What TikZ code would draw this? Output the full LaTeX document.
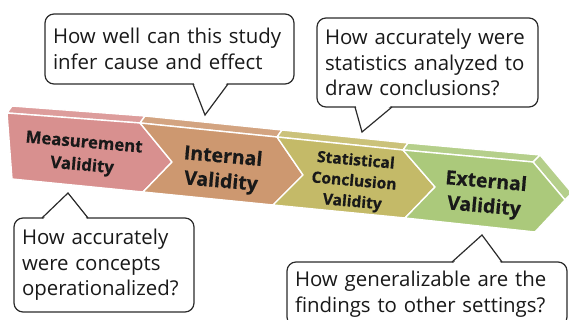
\documentclass[tikz,border=0pt]{standalone}
\usepackage{fontspec}
\setmainfont{Open Sans}
\newfontfamily\heavyfont[BoldFeatures={FakeBold=0.5}]{Open Sans}
\usetikzlibrary{calc}
\definecolor{pinkc}{HTML}{D8908F}
\definecolor{brownc}{HTML}{CD9870}
\definecolor{olivec}{HTML}{C4BA68}
\definecolor{greenc}{HTML}{ABC97B}
\definecolor{edgec}{HTML}{2B2B2B}
\begin{document}
\begin{tikzpicture}[x=1pt,y=-1pt,
  face/.style={draw=white, line width=1.4pt, line join=round},
  lab/.style={align=center, rotate=-5, inner sep=0pt, text=black!90},
  callbox/.style={draw=edgec, line width=1.2pt, fill=white, rounded corners=9pt,
    align=left, inner sep=8pt, text=black!90, font=\fontsize{20.4}{25.5}\selectfont},
  ptr/.style={draw=edgec, line width=1.2pt, line join=miter}
]
\useasboundingbox (0,0) rectangle (569,320);
\clip (0,0) rectangle (569,320);

% top faces
\path[face, fill=pinkc!88!white]  (7,113) -- (140,123) -- (145,116) -- (12,106) -- cycle;
\path[face, fill=brownc!88!white] (140,123) -- (277,137) -- (282,130) -- (145,116) -- cycle;
\path[face, fill=olivec!88!white] (277,137) -- (403,150) -- (408,143) -- (282,130) -- cycle;
\path[face, fill=greenc!88!white] (403,150) -- (533,162) -- (540,155) -- (408,143) -- cycle;
% side faces of the last arrow
\path[face, fill=greenc!88!white] (533,162) -- (540,155) -- (572,193) -- (565,200) -- cycle;
\path[face, fill=greenc!88!white] (565,200) -- (572,193) -- (542,225) -- (535,232) -- cycle;

% front faces
\path[face, fill=pinkc]  (7,113) -- (140,123) -- (172,162) -- (143,192) -- (12,179) -- cycle;
\path[face, fill=brownc] (140,123) -- (277,137) -- (303,175) -- (273,205) -- (143,192) -- (172,162) -- cycle;
\path[face, fill=olivec] (277,137) -- (403,150) -- (435,187) -- (405,218) -- (273,205) -- (303,175) -- cycle;
\path[face, fill=greenc] (403,150) -- (533,162) -- (565,200) -- (535,232) -- (405,218) -- (435,187) -- cycle;

% labels
\node[lab, font=\heavyfont\bfseries\fontsize{16.8}{23}\selectfont] (mv) at (83,155) {Measurement\\Validity};
\node[lab, font=\heavyfont\bfseries\fontsize{19.5}{25}\selectfont] (iv) at (222,170) {Internal\\Validity};
\node[lab, font=\heavyfont\bfseries\fontsize{15.6}{20.8}\selectfont] (sv) at (354,182) {Statistical\\Conclusion\\Validity};
\node[lab, font=\heavyfont\bfseries\fontsize{19.5}{25}\selectfont] (ev) at (485,195) {External\\Validity};

% callouts
\node[callbox, minimum width=249pt, minimum height=70pt, text width=233pt] (c1) at (169.5,49)
  {How well can this study\\infer cause and effect};
\node[callbox, minimum width=221pt, minimum height=89pt, text width=205pt] (c2) at (427.5,62.5)
  {How accurately were\\statistics analyzed to\\draw conclusions?};
\node[callbox, minimum width=180pt, minimum height=94pt, text width=164pt] (c3) at (104,265)
  {How accurately\\were concepts\\operationalized?};
\node[callbox, minimum width=280pt, minimum height=64pt, text width=264pt] (c4) at (427,294)
  {How generalizable are the\\findings to other settings?};

% pointers
\coordinate (p1a) at (193,84);  \coordinate (p1t) at (205,115); \coordinate (p1b) at (228,84);
\coordinate (p2a) at (355,107); \coordinate (p2t) at (362,132); \coordinate (p2b) at (392,107);
\coordinate (p3a) at (42,218);  \coordinate (p3t) at (68,193);  \coordinate (p3b) at (88,218);
\coordinate (p4a) at (452,262); \coordinate (p4t) at (482,235); \coordinate (p4b) at (502,262);

\fill[white] ($(p1a)+(0.8,-1.5)$) -- (p1t) -- ($(p1b)+(-0.8,-1.5)$) -- cycle;
\fill[white] ($(p2a)+(0.8,-1.5)$) -- (p2t) -- ($(p2b)+(-0.8,-1.5)$) -- cycle;
\fill[white] ($(p3a)+(0.8,1.5)$) -- (p3t) -- ($(p3b)+(-0.8,1.5)$) -- cycle;
\fill[white] ($(p4a)+(0.8,1.5)$) -- (p4t) -- ($(p4b)+(-0.8,1.5)$) -- cycle;
\path[ptr] (p1a) -- (p1t) -- (p1b);
\path[ptr] (p2a) -- (p2t) -- (p2b);
\path[ptr] (p3a) -- (p3t) -- (p3b);
\path[ptr] (p4a) -- (p4t) -- (p4b);
\end{tikzpicture}
\end{document}
